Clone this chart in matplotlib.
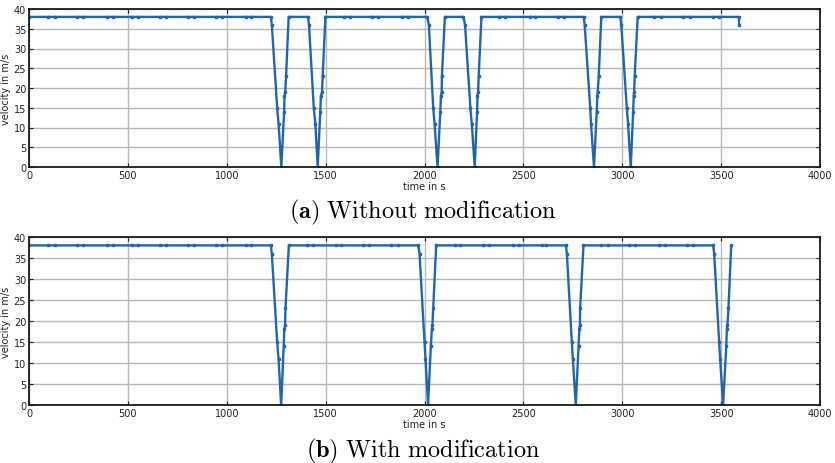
import matplotlib
matplotlib.use("Agg")
import matplotlib.pyplot as plt

plt.rcParams['mathtext.fontset'] = 'cm'

# ---- data: (a) without modification ----
t_a = [0, 96, 130, 245, 274, 392, 423, 522, 549, 662, 691, 806, 835, 946, 975, 1097, 1124,
       1223, 1228, 1255, 1262, 1276, 1290, 1292, 1296, 1300, 1313,
       1411, 1416, 1440, 1448, 1460, 1473, 1476, 1482, 1485, 1499,
       1592, 1621, 1735, 1765, 1884, 1916,
       2014, 2022, 2044, 2051, 2066, 2080, 2083, 2087, 2088, 2103,
       2197, 2205, 2232, 2239, 2254, 2266, 2268, 2271, 2274, 2288,
       2378, 2408, 2536, 2557, 2674, 2706,
       2805, 2810, 2838, 2842, 2857, 2871, 2874, 2876, 2881, 2894,
       2990, 2995, 3023, 3029, 3043, 3055, 3058, 3060, 3063, 3078,
       3163, 3194, 3309, 3342, 3458, 3488, 3590, 3591]
v_a = [38, 38, 38, 38, 38, 38, 38, 38, 38, 38, 38, 38, 38, 38, 38, 38, 38,
       38, 36, 15, 11, 0, 14, 18, 19, 23, 38,
       38, 36, 15, 11, 0, 14, 18, 19, 23, 38,
       38, 38, 38, 38, 38, 38,
       38, 36, 15, 11, 0, 14, 18, 19, 23, 38,
       38, 36, 15, 11, 0, 14, 18, 19, 23, 38,
       38, 38, 38, 38, 38, 38,
       38, 36, 15, 11, 0, 14, 18, 19, 23, 38,
       38, 36, 15, 11, 0, 14, 18, 19, 23, 38,
       38, 38, 38, 38, 38, 38, 38, 36]

# ---- data: (b) with modification ----
t_b = [0, 96, 130, 245, 274, 392, 423, 522, 549, 662, 691, 806, 835, 946, 975, 1097, 1124,
       1223, 1228, 1255, 1262, 1275, 1288, 1291, 1295, 1297, 1314,
       1408, 1437, 1550, 1577, 1690, 1720, 1833, 1867,
       1968, 1975, 2000, 2005, 2018, 2032, 2037, 2040, 2044, 2059,
       2153, 2182, 2297, 2325, 2450, 2478, 2592, 2614,
       2715, 2720, 2745, 2750, 2765, 2779, 2783, 2786, 2787, 2804,
       2895, 2926, 3035, 3064, 3185, 3215, 3328, 3359,
       3460, 3465, 3490, 3495, 3510, 3526, 3529, 3532, 3537, 3551]
v_b = [38, 38, 38, 38, 38, 38, 38, 38, 38, 38, 38, 38, 38, 38, 38, 38, 38,
       38, 36, 15, 11, 0, 14, 18, 19, 23, 38,
       38, 38, 38, 38, 38, 38, 38, 38,
       38, 36, 15, 11, 0, 14, 18, 19, 23, 38,
       38, 38, 38, 38, 38, 38, 38, 38,
       38, 36, 15, 11, 0, 14, 18, 19, 23, 38,
       38, 38, 38, 38, 38, 38, 38, 38,
       38, 36, 15, 11, 0, 14, 18, 19, 23, 38]

x_ticks = [0, 500, 1000, 1500, 2000, 2500, 3000, 3500, 4000]
y_ticks = [0, 5, 10, 15, 20, 25, 30, 35, 40]
captions = [r'$\mathbf{(a)}\ \mathrm{Without\ modification}$',
            r'$\mathbf{(b)}\ \mathrm{With\ modification}$']

W, H = 835, 464
fig = plt.figure(figsize=(W / 100, H / 100), dpi=100)

line_color = '#2166ac'


def make_axes(top_px, bottom_px):
    return fig.add_axes([29 / W, 1 - bottom_px / H, 791 / W, (bottom_px - top_px) / H])


def style(ax):
    ax.set_xlim(0, 4000)
    ax.set_ylim(0, 40)
    ax.set_xticks(x_ticks)
    ax.set_yticks(y_ticks)
    ax.grid(True, color='#b8b8b8', linewidth=1.0)
    ax.set_axisbelow(True)
    ax.tick_params(axis='both', labelsize=7, colors='#222222', direction='in',
                   length=3, width=0.8, top=True, right=True, pad=2)
    for s in ax.spines.values():
        s.set_linewidth(1.3)
        s.set_color('#1a1a1a')
    ax.set_xlabel('time in s', fontsize=7, color='#222222', labelpad=1)
    ax.set_ylabel('velocity in m/s', fontsize=7, color='#222222', labelpad=2)


ax1 = make_axes(10, 168)
ax1.plot(t_a, v_a, color=line_color, linewidth=1.7, marker='s', markersize=2.0)
style(ax1)

ax2 = make_axes(238, 406)
ax2.plot(t_b, v_b, color=line_color, linewidth=1.7, marker='s', markersize=2.0)
style(ax2)

fig.text(423 / W, 1 - 212 / H, captions[0], ha='center', va='center', fontsize=17.5)
fig.text(423 / W, 1 - 451 / H, captions[1], ha='center', va='center', fontsize=17.5)

fig.savefig('out.png', dpi=100)
